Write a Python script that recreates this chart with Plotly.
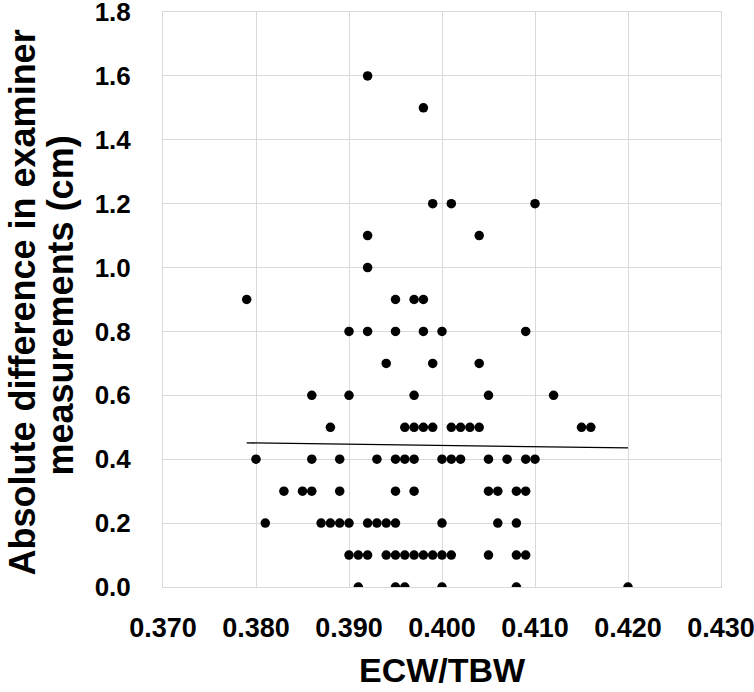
import numpy as np
import plotly.graph_objects as go

# ECW/TBW values grouped by absolute difference level
ecw_tbw = [
    # 1.6
    0.392,
    # 1.5
    0.398,
    # 1.2
    0.399, 0.401, 0.410,
    # 1.1
    0.392, 0.404,
    # 1.0
    0.392,
    # 0.9
    0.379, 0.395, 0.397, 0.398,
    # 0.8
    0.390, 0.392, 0.395, 0.398, 0.400, 0.409,
    # 0.7
    0.394, 0.399, 0.404,
    # 0.6
    0.386, 0.390, 0.397, 0.405, 0.412,
    # 0.5
    0.388, 0.396, 0.397, 0.398, 0.399, 0.401, 0.402, 0.403, 0.404, 0.415, 0.416,
    # 0.4
    0.380, 0.386, 0.389, 0.393, 0.395, 0.396, 0.397, 0.400, 0.401, 0.402, 0.405, 0.407, 0.409, 0.410,
    # 0.3
    0.383, 0.385, 0.386, 0.389, 0.395, 0.397, 0.405, 0.406, 0.408, 0.409,
    # 0.2
    0.381, 0.387, 0.388, 0.389, 0.390, 0.392, 0.393, 0.394, 0.395, 0.400, 0.406, 0.408,
    # 0.1
    0.390, 0.391, 0.392, 0.394, 0.395, 0.396, 0.397, 0.398, 0.399, 0.400, 0.401, 0.405, 0.408, 0.409,
    # 0.0
    0.391, 0.395, 0.396, 0.400, 0.408, 0.420,
]
abs_diff = (
    [1.6] + [1.5] + [1.2] * 3 + [1.1] * 2 + [1.0] + [0.9] * 4 + [0.8] * 6 + [0.7] * 3
    + [0.6] * 5 + [0.5] * 11 + [0.4] * 14 + [0.3] * 10 + [0.2] * 12 + [0.1] * 14 + [0.0] * 6
)

x_ticks = [0.370, 0.380, 0.390, 0.400, 0.410, 0.420, 0.430]
y_ticks = [0.0, 0.2, 0.4, 0.6, 0.8, 1.0, 1.2, 1.4, 1.6, 1.8]

x_title = "ECW/TBW"
y_title_lines = ["Absolute difference in examiner", "measurements (cm)"]

x = np.array(ecw_tbw)
y = np.array(abs_diff)
slope, intercept = np.polyfit(x, y, 1)
tx = np.array([x.min(), x.max()])
ty = slope * tx + intercept

FONT = "Liberation Sans, Arial"
CLEAR = "rgba(0,0,0,0)"

fig = go.Figure()
fig.add_trace(go.Scatter(x=tx, y=ty, mode="lines",
                         line=dict(color="black", width=1.3), hoverinfo="skip"))
fig.add_trace(go.Scatter(x=x, y=y, mode="markers",
                         marker=dict(color="black", size=9.5)))

fig.update_layout(
    width=754, height=692,
    margin=dict(l=163, r=33, t=12, b=105, autoexpand=False),
    paper_bgcolor="white", plot_bgcolor="white",
    showlegend=False,
    font=dict(family=FONT, color="black"),
)
fig.update_xaxes(
    range=[0.370, 0.430], tickvals=x_ticks,
    ticktext=[f"<b>{v:.3f}</b>" for v in x_ticks],
    tickfont=dict(size=27, family=FONT),
    showgrid=True, gridcolor="#d9d9d9", gridwidth=1,
    showline=True, linecolor="#d9d9d9", mirror=True, zeroline=False,
    ticks="outside", ticklen=17, tickcolor=CLEAR, automargin=False,
    ticklabeloverflow="allow",
)
fig.update_yaxes(
    range=[0.0, 1.8], tickvals=y_ticks,
    ticktext=[f"<b>{v:.1f}</b>" for v in y_ticks],
    tickfont=dict(size=26, family=FONT),
    showgrid=True, gridcolor="#d9d9d9", gridwidth=1,
    showline=True, linecolor="#d9d9d9", mirror=True, zeroline=False,
    ticks="outside", ticklen=26, tickcolor=CLEAR, automargin=False,
    ticklabeloverflow="allow",
)
fig.add_annotation(text=f"<b>{x_title}</b>", xref="paper", yref="paper",
                   x=0.5, y=0, xanchor="center", yanchor="middle", yshift=-83,
                   showarrow=False, font=dict(size=34, family=FONT))
for line_text, xs, ys in zip(y_title_lines, [-141, -103], [-3, -6]):
    fig.add_annotation(text=f"<b>{line_text}</b>", xref="paper", yref="paper",
                       x=0, y=0.5, xanchor="center", yanchor="middle",
                       xshift=xs, yshift=ys, textangle=-90, showarrow=False,
                       font=dict(size=36, family=FONT))

fig.write_html("out.html", config={"displayModeBar": False},
               post_script="document.body.style.margin='0';document.body.style.overflow='hidden';")
